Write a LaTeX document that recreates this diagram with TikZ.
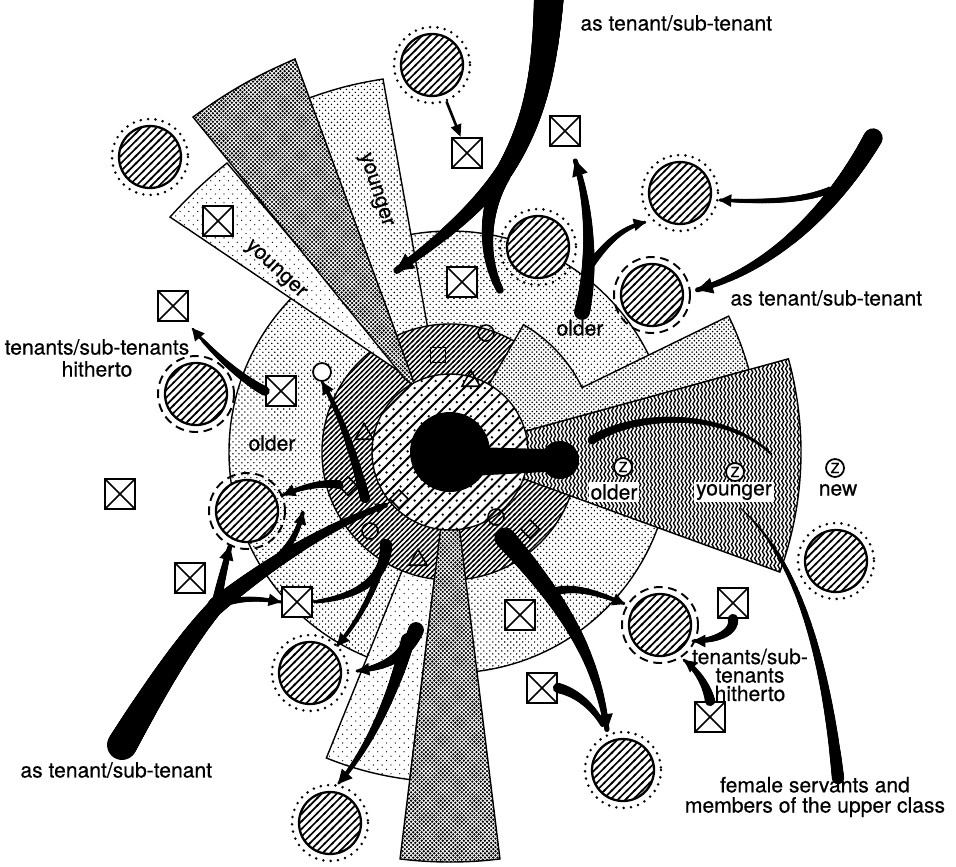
\documentclass[tikz,border=0pt]{standalone}
\usepackage{fontspec}
\setmainfont[BoldFont=TeX Gyre Heros, BoldFeatures={FakeBold=0.5}]{TeX Gyre Heros}
\usetikzlibrary{patterns,decorations.markings,arrows.meta,shapes.geometric}

%% fill patterns
\pgfdeclarepatternformonly{sparsedots}{\pgfqpoint{-1pt}{-1pt}}{\pgfqpoint{6pt}{6pt}}{\pgfqpoint{5pt}{5pt}}{%
  \pgfpathcircle{\pgfqpoint{0pt}{0pt}}{0.38pt}\pgfpathcircle{\pgfqpoint{2.5pt}{2.5pt}}{0.38pt}\pgfusepath{fill}}
\pgfdeclarepatternformonly{lightdots}{\pgfqpoint{-1pt}{-1pt}}{\pgfqpoint{4.4pt}{4.4pt}}{\pgfqpoint{3.4pt}{3.4pt}}{%
  \pgfpathcircle{\pgfqpoint{0pt}{0pt}}{0.46pt}\pgfpathcircle{\pgfqpoint{1.7pt}{1.7pt}}{0.46pt}\pgfusepath{fill}}
\pgfdeclarepatternformonly{meddots}{\pgfqpoint{-1pt}{-1pt}}{\pgfqpoint{3.6pt}{3.6pt}}{\pgfqpoint{2.6pt}{2.6pt}}{%
  \pgfpathcircle{\pgfqpoint{0pt}{0pt}}{0.5pt}\pgfpathcircle{\pgfqpoint{1.3pt}{1.3pt}}{0.5pt}\pgfusepath{fill}}
\pgfdeclarepatternformonly{densedots}{\pgfqpoint{-1pt}{-1pt}}{\pgfqpoint{3.4pt}{3.4pt}}{\pgfqpoint{2.4pt}{2.4pt}}{%
  \pgfpathcircle{\pgfqpoint{0pt}{0pt}}{0.74pt}\pgfpathcircle{\pgfqpoint{1.2pt}{1.2pt}}{0.74pt}\pgfusepath{fill}}
\pgfdeclarepatternformonly{ringhatch}{\pgfqpoint{-1pt}{-1pt}}{\pgfqpoint{4pt}{4pt}}{\pgfqpoint{2.9pt}{2.9pt}}{%
  \pgfsetlinewidth{0.8pt}\pgfpathmoveto{\pgfqpoint{-0.5pt}{-0.5pt}}\pgfpathlineto{\pgfqpoint{3.4pt}{3.4pt}}\pgfusepath{stroke}}
\pgfdeclarepatternformonly{circhatch}{\pgfqpoint{-1pt}{-1pt}}{\pgfqpoint{5.3pt}{5.3pt}}{\pgfqpoint{4.3pt}{4.3pt}}{%
  \pgfsetlinewidth{0.95pt}\pgfpathmoveto{\pgfqpoint{-0.5pt}{-0.5pt}}\pgfpathlineto{\pgfqpoint{4.8pt}{4.8pt}}\pgfusepath{stroke}}
\pgfdeclarepatternformonly{stripedots}{\pgfqpoint{-1pt}{-1pt}}{\pgfqpoint{9pt}{9pt}}{\pgfqpoint{8pt}{8pt}}{%
  \pgfsetlinewidth{1.1pt}\pgfpathmoveto{\pgfqpoint{-0.5pt}{-0.5pt}}\pgfpathlineto{\pgfqpoint{8.5pt}{8.5pt}}\pgfusepath{stroke}%
  \pgfpathcircle{\pgfqpoint{0pt}{4pt}}{0.75pt}\pgfpathcircle{\pgfqpoint{4pt}{8pt}}{0.75pt}\pgfusepath{fill}}
\pgfdeclarepatternformonly{vwaves}{\pgfqpoint{-1pt}{-1pt}}{\pgfqpoint{3.2pt}{5pt}}{\pgfqpoint{2.2pt}{4pt}}{%
  \pgfsetlinewidth{0.75pt}\pgfpathmoveto{\pgfqpoint{1.1pt}{0pt}}%
  \pgfpathcurveto{\pgfqpoint{1.9pt}{0.7pt}}{\pgfqpoint{1.9pt}{1.3pt}}{\pgfqpoint{1.1pt}{2pt}}%
  \pgfpathcurveto{\pgfqpoint{0.3pt}{2.7pt}}{\pgfqpoint{0.3pt}{3.3pt}}{\pgfqpoint{1.1pt}{4pt}}\pgfusepath{stroke}}

\begin{document}
\begin{tikzpicture}
    [x=0.02cm, y=-0.02cm,
    thick,
    lbl/.style={font=\fontsize{12}{13}\selectfont\bfseries, inner sep=1pt},
    sparsesec/.style={draw, line width=.8pt, preaction={fill=white}, pattern=sparsedots},
    lightsec/.style={draw, line width=.8pt, preaction={fill=white}, pattern=lightdots},
    medsec/.style={draw, line width=.8pt, preaction={fill=white}, pattern=meddots},
    densesec/.style={draw, line width=.8pt, preaction={fill=white}, pattern=densedots},
    wavysec/.style={draw, line width=.8pt, preaction={fill=white}, pattern=vwaves},
    ringsec/.style={draw, line width=.8pt, preaction={fill=white}, pattern=ringhatch},
    innersec/.style={draw, line width=.8pt, preaction={fill=white}, pattern=stripedots},
    hcirc/.style={circle, draw, line width=1.3pt, minimum size=1.24cm, inner sep=0pt, fill=white,
      path picture={\fill[pattern=circhatch] (path picture bounding box.south west) rectangle (path picture bounding box.north east);}},
    hdot/.style={line width=1.6pt, dash pattern=on 0pt off 4.2pt, line cap=round},
    hdash/.style={line width=1.1pt, dash pattern=on 5pt off 3.2pt},
    xbox/.style={draw, line width=1.3pt, fill=white, minimum size=0.6cm, inner sep=0pt,
      path picture={\draw[line width=.9pt] (path picture bounding box.north west) -- (path picture bounding box.south east)
        (path picture bounding box.south west) -- (path picture bounding box.north east);}},
    rsq/.style={draw, line width=.9pt, minimum size=0.3cm, inner sep=0pt},
    rdia/.style={diamond, draw, line width=.9pt, minimum size=0.38cm, inner sep=0pt},
    rtri/.style={regular polygon, regular polygon sides=3, draw, line width=.9pt, minimum size=0.42cm, inner sep=0pt},
    rcir/.style={circle, draw, line width=.9pt, minimum size=0.32cm, inner sep=0pt},
    wcir/.style={circle, draw, line width=1pt, fill=white, minimum size=0.36cm, inner sep=0pt},
    zmark/.style={circle, draw, line width=1pt, fill=white, inner sep=.5pt, minimum size=0.36cm,
      font=\fontsize{8}{8}\selectfont\bfseries},
    flow/.style 2 args={postaction={decorate, decoration={markings,
      mark=between positions 0 and 1 step 0.8pt with {%
        \pgfmathsetmacro\flowrad{#1+(#2-#1)*\pgfkeysvalueof{/pgf/decoration/mark info/distance from start}/\pgfdecoratedpathlength}%
        \fill (0pt,0pt) circle[radius=\flowrad pt];}}}},
    tip/.style={postaction={decorate, decoration={markings,
      mark=at position 1 with {\arrow{Triangle[length=#1, width=#1]}}}}}]
    \useasboundingbox (0,0) rectangle (956,866);

    %% Disc and sectors
    \begin{scope}[shift={(450,452)}, yscale=-1]
        \path[lightsec] (0,0) circle[radius=221];
        \path[sparsesec] (0,0) -- (-112:330) arc[start angle=-112, end angle=-97, radius=330] -- cycle;
    \end{scope}
    \path[lightsec] (309,98) to[bend left=5] (383,79) -- (450,452) -- (416,388) -- cycle;
    \begin{scope}[shift={(450,452)}, yscale=-1]
        \path[ringsec] (0,0) circle[radius=128];
        \path[medsec] (0,0) -- (15.4:310) arc[start angle=15.4, end angle=26, radius=310]
            -- (26:147) arc[start angle=26, end angle=60, radius=147] -- cycle;
        \path[wavysec] (0,0) -- (-20:351) arc[start angle=-20, end angle=15.4, radius=351] -- cycle;
        \path[densesec] (0,0) -- (-97:410) arc[start angle=-97, end angle=-83, radius=410] -- cycle;
    \end{scope}
    \path[sparsesec] (170,217) to[bend left=4] (227,163) -- (409,378) -- cycle;
    \path[densesec] (193,117) to[bend left=6] (295,59) -- (416,388) -- (404,378) -- cycle;
    \path[innersec] (450,452) circle[radius=78];

    %% Black centre
    \fill (450,452) circle[radius=40];
    \fill (470,447) -- (545,449) -- (545,472) -- (470,476) -- cycle;
    \fill (560,460) circle[radius=19];

    %% Marks in the ring
    \node[rsq] (m1) at (438,355) {};
    \node[rcir] (m2) at (486,333) {};
    \node[rtri] (m3) at (471,381) {};
    \node[rtri] (m4) at (364,434) {};
    \node[rdia] (m5) at (348,486) {};
    \node[rdia] (m6) at (399,499) {};
    \node[rcir] (m7) at (370,531) {};
    \node[rtri] (m8) at (418,560) {};
    \node[rcir] (m9) at (496,517) {};
    \node[rdia] (m10) at (530,529) {};
    \node[wcir] (w1) at (322,372) {};

    %% Labels in the sectors
    \node[lbl, rotate=-43] (y1) at (275,270) {younger};
    \node[lbl, rotate=-72] (y2) at (375,190) {younger};
    \node[lbl] (old1) at (580,328) {older};
    \node[lbl] (old2) at (272,443) {older};
    \node[lbl, fill=white] (old3) at (614,492) {older};
    \node[lbl, fill=white] (yng3) at (734,492) {younger};
    \node[lbl] (new) at (838,490) {new};
    \node[zmark] (z1) at (623,467) {Z};
    \node[zmark] (z2) at (735,472) {Z};
    \node[zmark] (z3) at (835,468) {Z};

    %% Households
    \foreach \n/\x/\y in {c1/150/157, c2/432/65, c3/538/247, c4/680/193, c8/310/673,
                          c9/330/823, c10/623/770, c12/836/561}
        {\node[hcirc] (\n) at (\x,\y) {};
         \draw[hdot] (\n) circle[radius=38];}
    \foreach \n/\x/\y in {c5/652/295, c6/196/394, c7/247/511, c11/660/625}
        {\node[hcirc] (\n) at (\x,\y) {};
         \draw[hdash] (\n) circle[radius=38];}
    \foreach \n/\x/\y in {b1/218/221, b2/467/153, b3/565/131, b4/462/282, b5/173/306,
                          b6/281/391, b7/120/494, b8/190/578, b9/297/602, b10/520/615,
                          b11/542/688, b12/733/603, b13/710/717}
        \node[xbox] (\n) at (\x,\y) {};

    %% Flows
    \path[flow={8.5}{2}, tip=10pt] (549,-5) .. controls (545,70) and (535,120) .. (505,170)
        .. controls (478,208) and (440,240) .. (396,271);
    \path[flow={4.5}{2.2}, tip=10pt] (503,175) .. controls (484,210) and (482,255) .. (500,290);
    \path[flow={4.5}{1.4}, tip=9pt] (582,312) .. controls (593,265) and (590,205) .. (575,160);
    \path[flow={2.5}{1}, tip=7pt] (588,268) .. controls (605,245) and (620,228) .. (646,222);
    \path[flow={5.5}{1.4}, tip=9pt] (873,138) .. controls (835,205) and (775,268) .. (697,290);
    \path[flow={2}{1}, tip=7pt] (830,190) .. controls (800,202) and (760,202) .. (719,200);
    \path[flow={2.8}{0.8}, tip=7pt] (b6.west) .. controls (240,378) and (212,352) .. (192,328);
    \path[flow={8.5}{4.5}] (122,745) .. controls (160,680) and (190,635) .. (218,604);
    \path[flow={3}{1.4}, tip=8pt] (216,606) .. controls (220,585) and (225,565) .. (230,546);
    \path[flow={5}{1.5}, tip=6pt] (216,606) .. controls (270,562) and (330,525) .. (386,505);
    \path[flow={2.5}{1.2}, tip=7pt] (268,566) .. controls (288,552) and (298,532) .. (303,512);
    \path[flow={2}{1}, tip=7pt] (222,604) .. controls (240,598) and (258,598) .. (b9.west);
    \path[flow={2.5}{1}, tip=7pt] (m5) .. controls (322,482) and (302,487) .. (283,495);
    \path[flow={3}{1}, tip=7pt] (365,498) .. controls (355,460) and (343,418) .. (w1.south);
    \path[flow={3.5}{1}, tip=7pt] (386,545) .. controls (386,572) and (368,596) .. (b9.east);
    \path[flow={2}{1}, tip=7pt] (380,570) .. controls (370,600) and (355,625) .. (337,646);
    \path[flow={4.5}{1}, tip=7pt] (416,630) .. controls (405,658) and (385,667) .. (357,671);
    \path[flow={4}{1}, tip=8pt] (408,640) .. controls (392,700) and (366,752) .. (338,784);
    \path[flow={6}{1.5}, tip=9pt] (505,538) .. controls (560,600) and (596,652) .. (607,730);
    \path[flow={2.5}{1}, tip=7pt] (553,592) .. controls (575,585) and (600,594) .. (625,604);
    \path[flow={3}{1.5}] (b11.east) .. controls (575,692) and (592,705) .. (603,725);
    \path[flow={3}{1}, tip=7pt] (b12.south) .. controls (735,632) and (716,641) .. (693,641);
    \path[flow={3}{1}, tip=7pt] (b13.north) .. controls (708,690) and (700,672) .. (684,660);
    \path[flow={3.5}{0.5}] (838,778) .. controls (826,665) and (800,560) .. (740,508);
    \path[flow={2.5}{0.8}, tip=6pt] (592,440) .. controls (640,410) and (730,412) .. (772,455);
    \draw[line width=1.5pt, -{Triangle[length=7pt, width=6pt]}, shorten <=4pt] (c2) -- (b2);

    %% Outer labels
    \node[lbl, anchor=west] (tA) at (578,23) {as tenant/sub-tenant};
    \node[lbl, anchor=west] (tB) at (728,298) {as tenant/sub-tenant};
    \node[lbl, anchor=west] (tC) at (18,770) {as tenant/sub-tenant};
    \node[lbl, align=center, font=\fontsize{12}{12.5}\selectfont\bfseries] (tD) at (97,358) {tenants/sub-tenants\\hitherto};
    \node[lbl, align=center, font=\fontsize{12}{10.5}\selectfont\bfseries] (tE) at (750,675) {tenants/sub-\\tenants\\hitherto};
    \node[lbl, align=center, font=\fontsize{12}{11.5}\selectfont\bfseries] (tF) at (815,797) {female servants and\\members of the upper class};
\end{tikzpicture}
\end{document}
